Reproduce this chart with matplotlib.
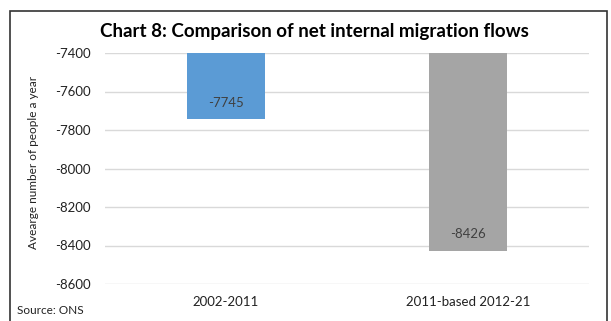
import matplotlib.pyplot as plt
from matplotlib.patches import Rectangle

categories = ["2002-2011", "2011-based 2012-21"]
values = [-7745, -8426]
colors = ["#5B9BD5", "#A5A5A5"]
yticks = [-7400, -7600, -7800, -8000, -8200, -8400, -8600]
top = -7400

plt.rcParams['font.family'] = ['Lato', 'DejaVu Sans']

fig = plt.figure(figsize=(6.11, 3.21), dpi=100)
ax = fig.add_axes([105 / 611, 1 - 284 / 321, 484 / 611, 231 / 321])

x = range(len(categories))
heights = [v - top for v in values]
bars = ax.bar(x, heights, bottom=top, width=0.32, color=colors, zorder=3)

for i, v in enumerate(values):
    ax.text(i, v + 85, str(v), ha='center', va='center', fontsize=9.5, color='#404040', zorder=4)

ax.set_ylim(-8600, -7400)
ax.set_xlim(-0.5, 1.5)
ax.set_yticks(yticks)
ax.set_yticklabels([str(t) for t in yticks], fontsize=9.5, color='#222222')
ax.set_xticks(list(x))
ax.set_xticklabels(categories, fontsize=9.5, color='#222222')
ax.tick_params(axis='both', length=0, pad=10)
ax.tick_params(axis='x', pad=9)
ax.grid(axis='y', color='#D9D9D9', linewidth=1, zorder=0)
for s in ax.spines.values():
    s.set_visible(False)

ax.set_ylabel("Avearge number of people a year", fontsize=8.5, color='#222222')
ax.yaxis.set_label_coords(-0.137, 0.525)

fig.text(0.515, 1 - 32 / 321, "Chart 8: Comparison of net internal migration flows",
         ha='center', va='center', fontsize=13.5, fontweight='bold', color='black')
fig.text(17 / 611, 1 - 311 / 321, "Source: ONS", ha='left', va='center', fontsize=8.5, color='#222222')

fig.patches.append(Rectangle((10 / 611, -0.1), 597 / 611, 1.1 - 11 / 321, transform=fig.transFigure,
                             fill=False, edgecolor='#333333', linewidth=1.2))

fig.savefig("out.png", dpi=100)
